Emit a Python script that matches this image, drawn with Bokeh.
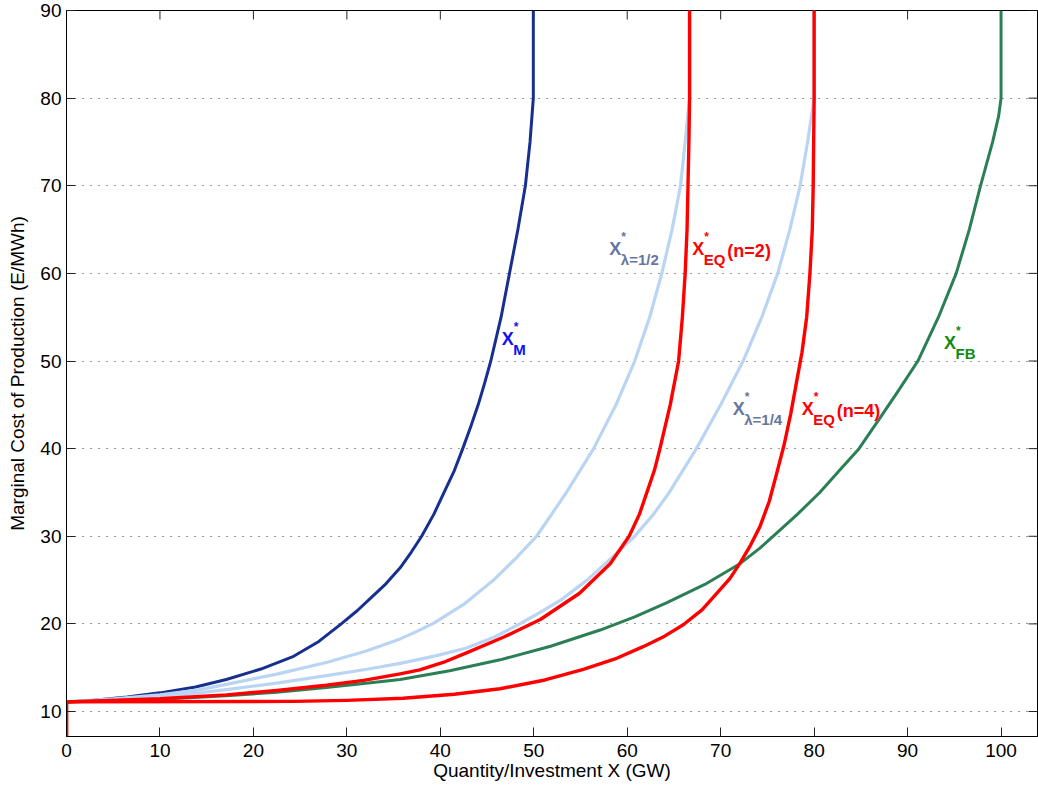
import math
from bokeh.plotting import figure
from bokeh.models import Range1d, FixedTicker
from bokeh.embed import file_html
from bokeh.resources import INLINE
from bokeh.core.properties import value

# ---------------- data ----------------
# X*_M
xm_x = [0, 2.9, 6.5, 10, 13.8, 17.1, 20.8, 24.3, 27.0, 29.4, 31.1, 32.6, 34.2, 35.7, 36.9, 38.0,
        39.3, 40.4, 41.5, 42.4, 43.25, 44.05, 44.75, 45.4, 46.5, 47.4, 48.3, 49.1, 49.6, 49.95, 49.95]
xm_y = [11.1, 11.3, 11.65, 12.13, 12.8, 13.65, 14.85, 16.3, 18.0, 20, 21.5, 23, 24.6, 26.4, 28.2, 30,
        32.5, 35, 37.5, 40, 42.5, 45, 47.5, 50, 55, 60, 65, 70, 75, 80, 90]

# X*_lambda=1/2
l2_x = [0, 5, 10, 14, 17.1, 22.5, 27.8, 32, 35.7, 37.5, 39.3, 42.5, 45.7, 48.1, 50.3, 53.5, 56.4,
        58.8, 60.8, 62.4, 63.7, 64.8, 65.7, 66.2, 66.67, 66.67]
l2_y = [11.1, 11.45, 11.9, 12.45, 13.1, 14.27, 15.6, 16.87, 18.29, 19.15, 20.09, 22.22, 25, 27.5, 30, 35, 40,
        45, 50, 55, 60, 65, 70, 75, 80, 90]

# X*_lambda=1/4
l4_x = [0, 10, 17.1, 22.5, 27.8, 32, 35.7, 39.5, 42.8, 45.8, 48.5, 50.0, 53.0, 55.7, 58.3, 60.8,
        62.8, 64.5, 67.4, 70.0, 72.4, 74.4, 76.1, 77.4, 78.5, 79.3, 80, 80]
l4_y = [11.1, 11.6, 12.5, 13.25, 14.1, 14.8, 15.5, 16.35, 17.25, 18.5, 20, 20.9, 22.8, 25, 27.5, 30,
        32.5, 35, 40, 45, 50, 55, 60, 65, 70, 75, 80, 90]

# X*_FB
fb_x = [0, 10, 17.1, 22.5, 27.8, 31.8, 35.7, 41.0, 46.4, 51.8, 57.1, 60.8, 64.2, 68.3, 72.1, 74.2,
        75.6, 78.2, 80.6, 82.7, 84.8, 87.05, 88.95, 91.1, 93.3, 95.2, 96.6, 97.8, 99.1, 99.75, 100, 100]
fb_y = [11.1, 11.4, 11.8, 12.2, 12.75, 13.2, 13.65, 14.65, 15.9, 17.45, 19.3, 20.8, 22.4, 24.5, 26.9, 28.65,
        30, 32.5, 35, 37.5, 40, 43.5, 46.5, 50, 55, 60, 65, 70, 75, 78, 80, 90]

# X*_EQ(n=2)
e2_x = [0, 0, 10, 17.1, 22.5, 27.8, 31.8, 35.7, 37.8, 40.3, 42.8, 46.8, 50.7, 54.9, 58.2, 60.2, 61.3, 62.1,
        62.9, 63.5, 64.6, 65.5, 65.9, 66.2, 66.4, 66.5, 66.6, 66.67, 66.67]
e2_y = [0, 11.1, 11.45, 11.9, 12.4, 13.0, 13.55, 14.3, 14.75, 15.6, 16.7, 18.5, 20.5, 23.5, 26.9, 30, 32.5, 35,
        37.5, 40, 45, 50, 55, 60, 65, 70, 75, 80, 90]

# X*_EQ(n=4)
e4_x = [0, 0, 24.3, 30.0, 36.0, 41.5, 46.4, 51.2, 55.3, 58.7, 61.7, 64.0, 66.0, 68.0, 69.6, 71.0, 72.1,
        73.2, 74.2, 75.2, 76.0, 76.8, 77.5, 78.1, 78.7, 79.2, 79.55, 79.8, 79.9, 80, 80]
e4_y = [0, 11.1, 11.16, 11.27, 11.52, 11.97, 12.6, 13.6, 14.8, 16.0, 17.4, 18.6, 19.9, 21.6, 23.5, 25.2, 27.0,
        29, 31.1, 34, 37.2, 40.5, 44, 47.5, 51, 55, 60, 65, 70, 80, 90]

x_ticks = [0, 10, 20, 30, 40, 50, 60, 70, 80, 90, 100]
y_ticks = [10, 20, 30, 40, 50, 60, 70, 80, 90]
x_lim = (0, 103.9)
y_lim = (7.15, 90)

label_x = [46.57, 58.08, 66.97, 71.29, 78.67, 93.9]
label_y = [52.47, 62.73, 62.73, 44.5, 44.5, 52.02]
label_sub = ["M", "\u03bb=1/2", "EQ", "\u03bb=1/4", "EQ", "FB"]
label_suffix = ["", "", "(n=2)", "", "(n=4)", ""]
label_color = ["#1010f0", "#6676a0", "#ff0000", "#6676a0", "#ff0000", "#118a11"]

# ---------------- figure ----------------
FONT = "Liberation Sans"
p = figure(width=1038, height=783, x_range=Range1d(*x_lim), y_range=Range1d(*y_lim),
           output_backend="svg", toolbar_location=None,
           min_border_left=66, min_border_right=1, min_border_top=10, min_border_bottom=46)
p.background_fill_color = "white"
p.border_fill_color = "white"
p.outline_line_color = "black"
p.outline_line_width = 1

p.xgrid.visible = False
p.ygrid.ticker = FixedTicker(ticks=y_ticks)
p.ygrid.grid_line_color = "#333333"
p.ygrid.grid_line_dash = "1 7"
p.ygrid.grid_line_width = 1

for ax, ticks in ((p.xaxis[0], x_ticks), (p.yaxis[0], y_ticks)):
    ax.ticker = FixedTicker(ticks=ticks)
    ax.major_tick_in = 9
    ax.major_tick_out = 0
    ax.minor_tick_in = 0
    ax.minor_tick_out = 0
    ax.axis_line_color = "black"
    ax.major_tick_line_color = "#222222"
    ax.major_label_text_font = FONT
    ax.major_label_text_font_size = "19px"
    ax.major_label_text_color = "black"
    ax.axis_label_text_font = FONT
    ax.axis_label_text_font_size = "19px"
    ax.axis_label_text_font_style = "normal"
    ax.axis_label_text_color = "black"

p.xaxis.axis_label = "Quantity/Investment X (GW)"
p.yaxis.axis_label = "Marginal Cost of Production (E/MWh)"
p.xaxis.major_label_standoff = 7
p.xaxis.axis_label_standoff = 0
p.yaxis.major_label_standoff = 5
p.yaxis.axis_label_standoff = 9

# inward ticks on the top and right edges of the box
p.ray(x=x_ticks, y=[y_lim[1]] * len(x_ticks), length=9, length_units="screen",
      angle=-math.pi / 2, line_color="#222222", line_width=1)
p.ray(x=[x_lim[1]] * len(y_ticks), y=y_ticks, length=9, length_units="screen",
      angle=math.pi, line_color="#222222", line_width=1)

# ---------------- curves ----------------
p.line(xm_x, xm_y, line_color="#17308f", line_width=3, line_join="round")
p.line(l2_x, l2_y, line_color="#b9d5f3", line_width=3.2, line_join="round")
p.line(l4_x, l4_y, line_color="#b9d5f3", line_width=3.2, line_join="round")
p.line(fb_x, fb_y, line_color="#2b7f54", line_width=3, line_join="round")
p.line(e2_x, e2_y, line_color="#ff0000", line_width=3.4, line_join="round")
p.line(e4_x, e4_y, line_color="#ff0000", line_width=3.4, line_join="round")

# ---------------- curve labels ----------------
src = dict(x=label_x, y=label_y, sub=label_sub, suf=label_suffix, c=label_color,
           X=["X"] * len(label_x), star=["*"] * len(label_x))
p.text(x="x", y="y", text="X", text_color="c", source=src, text_font=value(FONT),
       text_font_style="bold", text_font_size="18px", text_baseline="alphabetic", text_align="left")
p.text(x="x", y="y", text="star", text_color="c", source=src, text_font=value(FONT),
       text_font_style="bold", text_font_size="12px", text_baseline="alphabetic", text_align="left",
       x_offset=12, y_offset=-12)
p.text(x="x", y="y", text="sub", text_color="c", source=src, text_font=value(FONT),
       text_font_style="bold", text_font_size="15px", text_baseline="alphabetic", text_align="left",
       x_offset=11.5, y_offset=10.5)
p.text(x="x", y="y", text="suf", text_color="c", source=src, text_font=value(FONT),
       text_font_style="bold", text_font_size="18px", text_baseline="alphabetic", text_align="left",
       x_offset=35, y_offset=2)

open("out.html", "w").write(file_html(p, INLINE))
